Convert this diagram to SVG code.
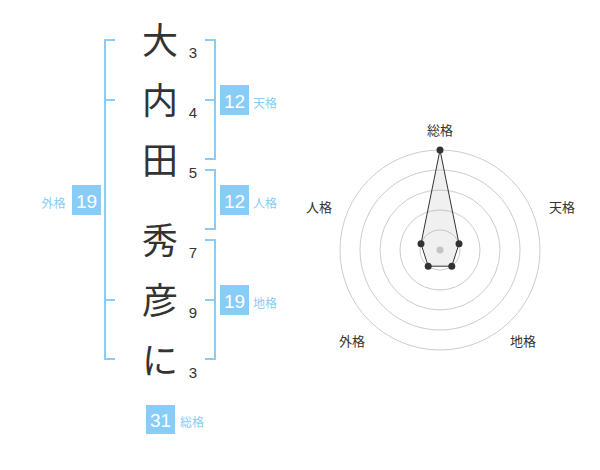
<svg xmlns="http://www.w3.org/2000/svg" width="600" height="470" viewBox="0 0 600 470">
<style>
.kanji{font-family:"Noto Sans CJK JP","Noto Sans CJK SC",sans-serif;font-size:36px;fill:#333;text-anchor:middle}
.num{font-family:"Liberation Sans",Arial,sans-serif;font-size:15px;fill:#333;text-anchor:middle}
.br{fill:none;stroke:#88ccf8;stroke-width:2}
.box{fill:#88ccf8}
.bt{font-family:"Liberation Sans",Arial,sans-serif;font-size:19px;fill:#fff;text-anchor:middle}
.lab{font-family:"Noto Sans CJK JP","Noto Sans CJK SC",sans-serif;font-size:12px;fill:#88ccf8}
.rl{font-family:"Noto Sans CJK JP","Noto Sans CJK SC",sans-serif;font-size:13px;fill:#333;text-anchor:middle}
.ring{fill:none;stroke:#ccc;stroke-width:1}
</style>
<rect width="600" height="470" fill="#fff"/>
<g id="connectors">
<path class="br" d="M115,40 H105 V359 H115 M105,100 H115 M105,300 H115"/>
<path class="br" d="M205,40 H215 V159 H205 M215,100 H205"/>
<path class="br" d="M205,170 H215 V229 H205"/>
<path class="br" d="M205,240 H215 V359 H205 M215,300 H205"/>
</g>
<g id="name">
<text class="kanji" x="160" y="54">大</text>
<text class="kanji" x="160" y="114">内</text>
<text class="kanji" x="160" y="174">田</text>
<text class="kanji" x="160" y="254">秀</text>
<text class="kanji" x="160" y="314">彦</text>
<text class="kanji" x="160" y="374">に</text>
<text class="num" x="193" y="58">3</text>
<text class="num" x="193" y="118">4</text>
<text class="num" x="193" y="178">5</text>
<text class="num" x="193" y="258">7</text>
<text class="num" x="193" y="318">9</text>
<text class="num" x="193" y="378">3</text>
</g>
<g id="tenkaku">
<rect class="box" x="220" y="85" width="29" height="30"/>
<text class="bt" x="234.5" y="108">12</text>
<text class="lab" x="253" y="108">天格</text>
</g>
<g id="jinkaku">
<rect class="box" x="220" y="185" width="29" height="30"/>
<text class="bt" x="234.5" y="208">12</text>
<text class="lab" x="253" y="208">人格</text>
</g>
<g id="chikaku">
<rect class="box" x="220" y="285" width="29" height="30"/>
<text class="bt" x="234.5" y="308">19</text>
<text class="lab" x="253" y="308">地格</text>
</g>
<g id="gaikaku">
<rect class="box" x="72" y="185" width="29" height="30"/>
<text class="bt" x="86.5" y="208">19</text>
<text class="lab" x="41.5" y="208">外格</text>
</g>
<g id="soukaku">
<rect class="box" x="146" y="405" width="29" height="29"/>
<text class="bt" x="160.5" y="427">31</text>
<text class="lab" x="180" y="427">総格</text>
</g>
<g id="radar">
<circle class="ring" cx="440" cy="250" r="20"/>
<circle class="ring" cx="440" cy="250" r="40"/>
<circle class="ring" cx="440" cy="250" r="60"/>
<circle class="ring" cx="440" cy="250" r="80"/>
<circle class="ring" cx="440" cy="250" r="100"/>
<circle cx="440" cy="250" r="3.5" fill="#ccc"/>
<polygon points="440,150 459,243.8 451.8,266.2 428.2,266.2 421,243.8" fill="#999" fill-opacity="0.15" stroke="#333" stroke-width="1"/>
<g fill="#333">
<circle cx="440" cy="150" r="3.5"/>
<circle cx="459" cy="243.8" r="3.5"/>
<circle cx="451.8" cy="266.2" r="3.5"/>
<circle cx="428.2" cy="266.2" r="3.5"/>
<circle cx="421" cy="243.8" r="3.5"/>
</g>
<text class="rl" x="440" y="135">総格</text>
<text class="rl" x="562" y="212">天格</text>
<text class="rl" x="523" y="346">地格</text>
<text class="rl" x="352" y="346">外格</text>
<text class="rl" x="319" y="212">人格</text>
</g>
</svg>
